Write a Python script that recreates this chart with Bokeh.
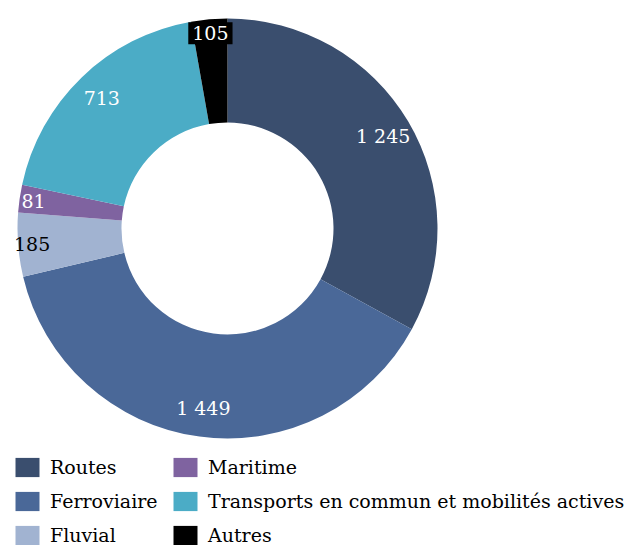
import math
from bokeh.plotting import figure
from bokeh.models import ColumnDataSource, Range1d, Legend, LegendItem
from bokeh.core.properties import value
from bokeh.embed import file_html
from bokeh.resources import INLINE

categories = ["Routes", "Ferroviaire", "Fluvial", "Maritime",
              "Transports en commun et mobilités actives", "Autres"]
values = [1245, 1449, 185, 81, 713, 105]
labels = ["1 245", "1 449", "185", "81", "713", "105"]
colors = ["#3A4E6E", "#4A6898", "#A1B3D1", "#7F63A0", "#4BACC6", "#000000"]
label_colors = ["white", "white", "black", "white", "white", "white"]

FONT = "DejaVu Serif"
R_OUT = 210
R_IN = 106

total = sum(values)
starts, ends, lx, ly = [], [], [], []
cum = 0
for v in values:
    a0 = math.pi / 2 - 2 * math.pi * cum / total
    cum += v
    a1 = math.pi / 2 - 2 * math.pi * cum / total
    starts.append(a0)
    ends.append(a1)
    mid = (a0 + a1) / 2
    # small slices: label pushed further outward (best-fit style)
    r_lab = 196 if v / total < 0.06 else 181
    lx.append(r_lab * math.cos(mid))
    ly.append(r_lab * math.sin(mid))

src = ColumnDataSource(dict(cat=categories, val=values, start=starts, end=ends,
                            color=colors))

p = figure(width=625, height=545, output_backend="svg", toolbar_location=None,
           x_range=Range1d(-227, 398), y_range=Range1d(-317, 228),
           min_border=0)
p.axis.visible = False
p.grid.visible = False
p.outline_line_color = None
p.background_fill_color = "white"

r = p.annular_wedge(x=0, y=0, inner_radius=R_IN, outer_radius=R_OUT,
                    start_angle="start", end_angle="end", direction="clock",
                    fill_color="color", line_color=None, source=src)

k = labels.index("105")
main_idx = [i for i in range(len(values)) if i != k]
lab_src = ColumnDataSource(dict(x=[lx[i] for i in main_idx], y=[ly[i] for i in main_idx],
                                t=[labels[i] for i in main_idx],
                                c=[label_colors[i] for i in main_idx]))
p.text(x="x", y="y", text="t", text_color="c", source=lab_src,
       text_align="center", text_baseline="middle",
       text_font=value(FONT), text_font_size="19px")

p.text(x=[lx[k]], y=[ly[k]], text=[labels[k]], text_color="white",
       text_align="center", text_baseline="middle",
       text_font=value(FONT), text_font_size="19px",
       background_fill_color="black", padding=4)

def make_legend(idxs, loc):
    items = [LegendItem(label=categories[i], renderers=[r], index=i) for i in idxs]
    return Legend(items=items, location=loc, orientation="vertical",
                  glyph_width=30, glyph_height=24, label_height=24,
                  label_standoff=8, spacing=10, padding=0, margin=0,
                  border_line_color=None, background_fill_alpha=0,
                  label_text_font=FONT, label_text_font_size="19px",
                  label_text_color="black")

p.add_layout(make_legend([0, 1, 2], (12, -2)), "center")
p.add_layout(make_legend([3, 4, 5], (170, -2)), "center")

open("out.html", "w").write(file_html(p, INLINE))
